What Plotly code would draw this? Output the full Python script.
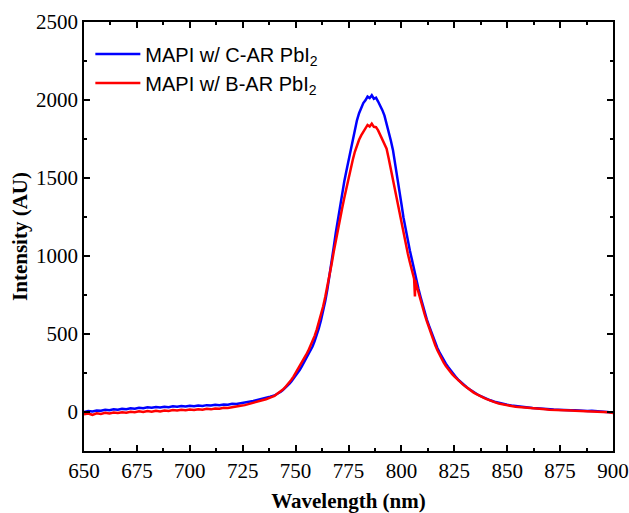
import plotly.graph_objects as go

# Wavelength sampling grid (nm)
wl_grid = list(range(650, 741, 2)) + list(range(741, 841)) + list(range(842, 901, 2))

# MAPI w/ C-AR PbI2 (blue)
int_blue = [
    0, 6, 3, 10, 8, 14, 11, 17, 14, 20,
    18, 24, 21, 27, 24, 30, 27, 32, 29, 34,
    31, 36, 33, 38, 35, 40, 37, 42, 39, 44,
    41, 46, 43, 48, 47, 53, 52, 58, 60, 66,
    70, 76, 83, 90, 98, 106,
    113, 121, 130, 140, 152, 166, 180, 196, 213, 230,
    250, 271, 294, 318, 342, 366, 392, 420, 455, 494,
    538, 588, 645, 710, 785, 868, 960, 1055, 1150, 1237,
    1320, 1398, 1477, 1545, 1612, 1680, 1750, 1815, 1870, 1915,
    1952, 1980, 1998, 2022, 2012, 2030, 2008, 2015, 1990, 1965,
    1935, 1900, 1850, 1795, 1740, 1680, 1600, 1510, 1425, 1335,
    1245, 1170, 1100, 1035, 975, 910, 846, 793, 740, 686,
    633, 594, 555, 516, 477, 440, 410, 382, 356, 332,
    310, 290, 271, 253, 236, 220, 205, 192, 180, 168,
    157, 147, 137, 128, 120, 112, 105, 98, 92, 86,
    75, 66, 58, 52, 46, 42, 38, 34, 31, 28,
    26, 24, 21, 20, 18, 16, 15, 13, 14, 11,
    12, 9, 10, 7, 8, 5, 6, 2, 0, -4,
]

# MAPI w/ B-AR PbI2 (red) - includes the single-point glitch near 806 nm
wl_red = sorted(wl_grid + [806.4, 806.6])
int_red = [
    -15, -10, -18, -8, -12, -5, -9, -3, -7, -1,
    -4, 2, -2, 4, 0, 6, 2, 8, 4, 10,
    7, 12, 9, 14, 11, 16, 13, 18, 15, 20,
    17, 23, 21, 27, 26, 32, 34, 40, 44, 51,
    56, 64, 72, 82, 92, 103,
    114, 123, 133, 144, 157, 172, 188, 207, 227, 249,
    271, 294, 318, 342, 367, 393, 421, 452, 488, 528,
    573, 622, 676, 737, 803, 872, 947, 1025, 1100, 1168,
    1237, 1306, 1372, 1438, 1505, 1560, 1615, 1668, 1710, 1745,
    1773, 1796, 1815, 1840, 1830, 1848, 1828, 1826, 1805, 1778,
    1752, 1722, 1688, 1625, 1555, 1485, 1418, 1350, 1280, 1212,
    1146, 1080, 1017, 960, 905, 855,
    740, 845,
    820, 768, 718, 670,
    625, 582, 540, 500, 462, 428, 396, 367, 340, 316,
    295, 276, 259, 243, 228, 214, 201, 189, 177, 166,
    155, 145, 135, 126, 118, 110, 103, 96, 90, 84,
    72, 63, 55, 48, 43, 38, 34, 31, 28, 24,
    22, 20, 18, 17, 15, 13, 12, 11, 10, 9,
    8, 7, 6, 5, 5, 3, 2, 0, -2, -6,
]

x_ticks = [650, 675, 700, 725, 750, 775, 800, 825, 850, 875, 900]
y_ticks = [0, 500, 1000, 1500, 2000, 2500]

fig = go.Figure()
fig.add_trace(go.Scatter(x=wl_grid, y=int_blue, mode="lines",
                         name="MAPI w/ C-AR PbI<sub>2</sub>",
                         line=dict(color="#0000FF", width=2.5), legendgroup="a"))
fig.add_trace(go.Scatter(x=wl_red, y=int_red, mode="lines",
                         name="MAPI w/ B-AR PbI<sub>2</sub>",
                         line=dict(color="#FF0000", width=2.5), legendgroup="b"))

serif = "Liberation Serif, Times New Roman, serif"
axis_common = dict(
    showgrid=False, zeroline=False, showline=True, linecolor="black", linewidth=1.5,
    mirror="allticks", ticks="inside", ticklen=6, tickwidth=1.5, tickcolor="black",
    tickfont=dict(family=serif, size=21, color="black"),
)

fig.update_layout(
    width=629, height=513,
    margin=dict(l=84, r=16, t=22, b=62),
    plot_bgcolor="white", paper_bgcolor="white",
    legend=dict(x=0.012, y=0.971, xanchor="left", yanchor="top",
                font=dict(family="Liberation Sans, Arial, sans-serif", size=20, color="black"),
                bgcolor="rgba(0,0,0,0)", tracegroupgap=0, itemwidth=45),
    xaxis=dict(range=[650, 900], tickvals=x_ticks, automargin=False,
               minor=dict(dtick=12.5, tick0=650, ticks="inside", ticklen=3,
                          tickwidth=1.5, tickcolor="black"),
               title=dict(text="<b>Wavelength (nm)</b>", font=dict(family=serif, size=21, color="black")),
               **axis_common),
    yaxis=dict(range=[-250, 2500], tickvals=y_ticks, automargin="left",
               minor=dict(dtick=250, tick0=0, ticks="inside", ticklen=3,
                          tickwidth=1.5, tickcolor="black"),
               title=dict(text="<b>Intensity (AU)</b>", font=dict(family=serif, size=21, color="black"),
                          standoff=3),
               **axis_common),
)

fig.write_html(
    "out.html",
    config={"displayModeBar": False},
    post_script="document.body.style.margin='0';document.body.style.overflow='hidden';",
)
